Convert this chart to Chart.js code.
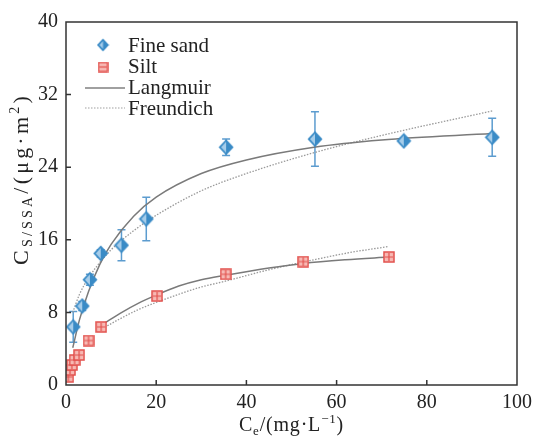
<!DOCTYPE html>
<html>
<head>
<meta charset="utf-8">
<script src="https://cdn.jsdelivr.net/npm/chart.js@4.4.1/dist/chart.umd.min.js"></script>
<style>
  html, body { margin: 0; padding: 0; background: #fff; }
  #wrap { width: 538px; height: 437px; }
</style>
</head>
<body>
<div id="wrap"><canvas id="isoChart" width="538" height="437"></canvas></div>
<script>
// Data
const xTicks = [0, 20, 40, 60, 80, 100];
const yTicks = [0, 8, 16, 24, 32, 40];

const fineC = [1.6, 3.6, 5.3, 7.7, 12.3, 17.8, 35.5, 55.2, 74.9, 94.5];
const fineQ = [6.4, 8.7, 11.6, 14.5, 15.4, 18.3, 26.2, 27.1, 26.9, 27.3];
const fineErr = [1.7, 0.5, 0.6, 0.4, 1.7, 2.4, 0.9, 3.0, 0.3, 2.1];

const siltC = [0.5, 0.9, 1.3, 1.9, 2.9, 5.0, 7.8, 20.2, 35.4, 52.6, 71.6];
const siltQ = [0.9, 1.65, 2.2, 2.75, 3.3, 4.9, 6.4, 9.8, 12.2, 13.6, 14.1];

const fineLangC = [1.5, 3, 5, 7.5, 10, 15, 20, 30, 40, 55, 70, 94.5];
const fineLangQ = [4.1, 7.2, 10.3, 13.3, 15.5, 18.6, 20.7, 23.3, 24.8, 26.2, 27.0, 27.7];
const fineFreuC = [1.5, 3, 5, 7.5, 10, 15, 20, 30, 40, 55, 70, 94.5];
const fineFreuQ = [8.0, 10.0, 11.8, 13.5, 14.9, 17.0, 18.7, 21.4, 23.3, 25.6, 27.5, 30.2];

const siltLangC = [8.5, 12, 16, 20, 25, 30, 35.4, 45, 52.6, 62, 71.6];
const siltLangQ = [6.8, 7.9, 9.0, 9.9, 10.9, 11.6, 12.1, 12.9, 13.4, 13.8, 14.1];
const siltFreuC = [8, 12, 16, 20, 25, 30, 35, 45, 55, 63, 71.4];
const siltFreuQ = [6.2, 7.3, 8.3, 9.1, 10.0, 10.8, 11.4, 12.7, 13.8, 14.6, 15.25];

const FONT = '"Liberation Serif", "Times New Roman", serif';
const BLUE = '#3a8bc6';
const BLUE_LIGHT = '#a6cdea';
const ERR_BLUE = '#5c9ccf';
const RED = '#e2504c';
const RED_FILL = '#f7b9b4';

function toXY(xs, ys) {
    return xs.map((x, i) => ({ x: x, y: ys[i] }));
}

// marker images
function makeDiamond(w, h) {
    const c = document.createElement('canvas');
    c.width = w; c.height = h;
    const g = c.getContext('2d');
    g.beginPath();
    g.moveTo(w / 2, 0.5); g.lineTo(w - 0.5, h / 2); g.lineTo(w / 2, h - 0.5); g.lineTo(0.5, h / 2);
    g.closePath();
    g.fillStyle = BLUE;
    g.fill();
    g.beginPath();
    g.moveTo(w / 2, 3); g.lineTo(w / 2, h - 3); g.lineTo(3, h / 2);
    g.closePath();
    g.fillStyle = BLUE_LIGHT;
    g.fill();
    return c;
}

function makeSquare(s, cross) {
    const c = document.createElement('canvas');
    c.width = s; c.height = s;
    const g = c.getContext('2d');
    g.fillStyle = RED_FILL;
    g.fillRect(1, 1, s - 2, s - 2);
    g.strokeStyle = RED;
    g.lineWidth = 1.5;
    g.strokeRect(1, 1, s - 2, s - 2);
    g.lineWidth = 1.2;
    g.beginPath();
    g.moveTo(2, s / 2); g.lineTo(s - 2, s / 2);
    if (cross) { g.moveTo(s / 2, 2); g.lineTo(s / 2, s - 2); }
    g.stroke();
    return c;
}

const diamondImg = makeDiamond(16, 17);
const squareImg = makeSquare(12, true);
const legendDiamond = makeDiamond(13, 14);
const legendSquare = makeSquare(11, false);

// draws text pieces with sub/superscripts, centred on (0,0) of the current transform
function drawRich(ctx, parts, spacing) {
    ctx.letterSpacing = (spacing || 0) + 'px';
    let total = 0;
    parts.forEach(p => {
        ctx.font = p.size + 'px ' + FONT;
        p.w = ctx.measureText(p.t).width;
        total += p.w;
    });
    let x = -total / 2;
    ctx.textAlign = 'left';
    ctx.textBaseline = 'alphabetic';
    parts.forEach(p => {
        ctx.font = p.size + 'px ' + FONT;
        ctx.fillText(p.t, x, p.dy || 0);
        x += p.w;
    });
    ctx.letterSpacing = '0px';
}

const decorations = {
    id: 'decorations',
    beforeDatasetsDraw(chart) {
        const ctx = chart.ctx;
        const xs = chart.scales.x, ys = chart.scales.y;
        // error bars for fine sand
        ctx.save();
        ctx.strokeStyle = ERR_BLUE;
        ctx.lineWidth = 1.5;
        fineC.forEach((c, i) => {
            const px = xs.getPixelForValue(c);
            const top = ys.getPixelForValue(fineQ[i] + fineErr[i]);
            const bot = ys.getPixelForValue(fineQ[i] - fineErr[i]);
            ctx.beginPath();
            ctx.moveTo(px, top); ctx.lineTo(px, bot);
            ctx.moveTo(px - 4, top); ctx.lineTo(px + 4, top);
            ctx.moveTo(px - 4, bot); ctx.lineTo(px + 4, bot);
            ctx.stroke();
        });
        ctx.restore();
    },
    afterDraw(chart) {
        const ctx = chart.ctx;
        const a = chart.chartArea;
        const xs = chart.scales.x, ys = chart.scales.y;
        ctx.save();
        // frame
        ctx.strokeStyle = '#333';
        ctx.lineWidth = 1.5;
        ctx.strokeRect(a.left, a.top, a.right - a.left, a.bottom - a.top);
        // inward ticks, left and bottom
        ctx.beginPath();
        yTicks.slice(1, -1).forEach(v => {
            const py = ys.getPixelForValue(v);
            ctx.moveTo(a.left, py); ctx.lineTo(a.left + 5, py);
        });
        xTicks.slice(1, -1).forEach(v => {
            const px = xs.getPixelForValue(v);
            ctx.moveTo(px, a.bottom); ctx.lineTo(px, a.bottom - 5);
        });
        ctx.stroke();

        ctx.fillStyle = '#222';
        // x axis title
        ctx.save();
        ctx.translate((a.left + a.right) / 2, 431);
        drawRich(ctx, [
            { t: 'C', size: 20 },
            { t: 'e', size: 13, dy: 4 },
            { t: '/(mg\u00b7L', size: 20 },
            { t: '\u22121', size: 13, dy: -8 },
            { t: ')', size: 20 }
        ], 0.8);
        ctx.restore();

        // y axis title
        ctx.save();
        ctx.translate(28, 179);
        ctx.rotate(-Math.PI / 2);
        drawRich(ctx, [
            { t: 'C', size: 22 },
            { t: 'S/SSA', size: 14, dy: 4 },
            { t: '/(\u03bcg\u00b7m', size: 22 },
            { t: '2', size: 14, dy: -9 },
            { t: ')', size: 22 }
        ], 3.2);
        ctx.restore();

        // legend
        ctx.font = '21px ' + FONT;
        ctx.textAlign = 'left';
        ctx.textBaseline = 'middle';
        ctx.drawImage(legendDiamond, 103 - 6.5, 45 - 7);
        ctx.fillText('Fine sand', 128, 46);
        ctx.drawImage(legendSquare, 103 - 5.5, 67 - 5.5);
        ctx.fillText('Silt', 128, 67);
        ctx.strokeStyle = '#808080';
        ctx.lineWidth = 1.5;
        ctx.beginPath(); ctx.moveTo(85, 88); ctx.lineTo(125, 88); ctx.stroke();
        ctx.fillText('Langmuir', 128, 88);
        ctx.strokeStyle = '#a0a0a0';
        ctx.lineWidth = 1.2;
        ctx.setLineDash([1.5, 1.5]);
        ctx.beginPath(); ctx.moveTo(85, 108); ctx.lineTo(125, 108); ctx.stroke();
        ctx.setLineDash([]);
        ctx.fillText('Freundich', 128, 109);
        ctx.restore();
    }
};

const lineStyle = {
    showLine: true,
    pointRadius: 0,
    pointHoverRadius: 0,
    fill: false,
    cubicInterpolationMode: 'monotone'
};

new Chart(document.getElementById('isoChart'), {
    type: 'scatter',
    data: {
        datasets: [
            {
                label: 'Fine sand',
                data: toXY(fineC, fineQ),
                pointStyle: diamondImg,
                pointRadius: 8
            },
            {
                label: 'Silt',
                data: toXY(siltC, siltQ),
                pointStyle: squareImg,
                pointRadius: 6
            },
            {
                label: 'Langmuir',
                data: toXY(fineLangC, fineLangQ),
                borderColor: '#7a7a7a',
                borderWidth: 1.5,
                ...lineStyle
            },
            {
                label: 'Langmuir silt',
                data: toXY(siltLangC, siltLangQ),
                borderColor: '#7a7a7a',
                borderWidth: 1.5,
                ...lineStyle
            },
            {
                label: 'Freundich',
                data: toXY(fineFreuC, fineFreuQ),
                borderColor: '#9a9a9a',
                borderWidth: 1.3,
                borderDash: [1.5, 1.5],
                ...lineStyle
            },
            {
                label: 'Freundich silt',
                data: toXY(siltFreuC, siltFreuQ),
                borderColor: '#9a9a9a',
                borderWidth: 1.3,
                borderDash: [1.5, 1.5],
                ...lineStyle
            }
        ]
    },
    options: {
        responsive: false,
        animation: false,
        devicePixelRatio: 1,
        layout: {
            padding: { left: 0, top: 22, right: 18, bottom: 0 }
        },
        plugins: {
            legend: { display: false },
            tooltip: { enabled: false }
        },
        scales: {
            x: {
                type: 'linear',
                min: 0,
                max: 100,
                afterFit: (scale) => { scale.height = 52; },
                afterBuildTicks: (scale) => { scale.ticks = xTicks.map(v => ({ value: v })); },
                ticks: {
                    padding: 6,
                    color: '#222',
                    font: { family: FONT, size: 20 }
                },
                grid: { display: false, drawTicks: false },
                border: { display: false }
            },
            y: {
                type: 'linear',
                min: 0,
                max: 40,
                afterFit: (scale) => { scale.width = 66; },
                afterBuildTicks: (scale) => { scale.ticks = yTicks.map(v => ({ value: v })); },
                ticks: {
                    padding: 8,
                    color: '#222',
                    font: { family: FONT, size: 20 }
                },
                grid: { display: false, drawTicks: false },
                border: { display: false }
            }
        }
    },
    plugins: [decorations]
});
</script>
</body>
</html>
